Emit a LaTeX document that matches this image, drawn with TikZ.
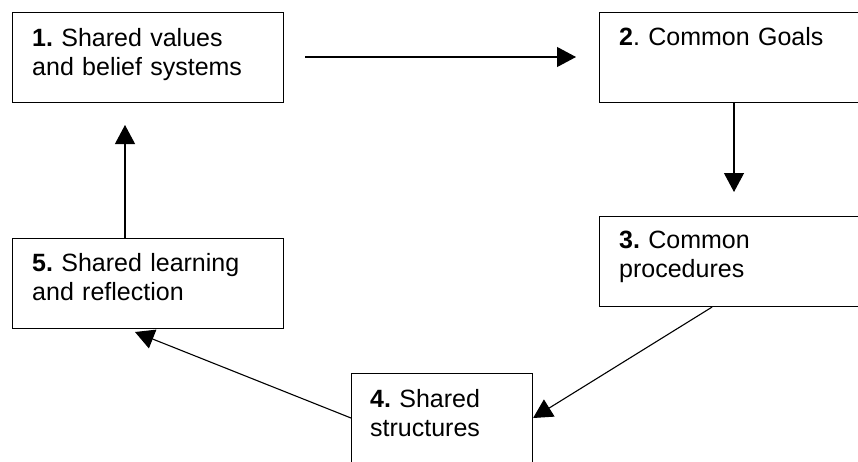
\documentclass[tikz,border=0pt]{standalone}
\usepackage{fontspec}
\setmainfont{Liberation Sans}
\usetikzlibrary{arrows.meta}
\frenchspacing
\begin{document}
\begin{tikzpicture}[x=1pt,y=-1pt,
  box/.style={draw=black, line width=1.1pt, rectangle, anchor=north west, inner sep=0pt},
  txt/.style={anchor=base west, inner sep=0pt, align=left, text width=240pt, font=\fontsize{25}{29}\selectfont\frenchspacing},
  arr/.style={draw=black, line width=1.1pt, -{Triangle[length=19pt,width=20pt]}}]
\clip (0,0) rectangle (858,461);
\fill[white] (0,0) rectangle (858,461);
% boxes
\node[box, minimum width=271pt, minimum height=90pt] (b1) at (12,12) {};
\node[box, minimum width=300pt, minimum height=90pt] (b2) at (599,12) {};
\node[box, minimum width=300pt, minimum height=90pt] (b3) at (599,216) {};
\node[box, minimum width=181pt, minimum height=120pt] (b4) at (351,373) {};
\node[box, minimum width=271pt, minimum height=90pt] (b5) at (12,238) {};
% texts
\node[txt] (t1) at (32,46) {\textbf{1.} Shared values\\and belief systems};
\node[txt] (t2) at (619,45) {\textbf{2}. Common Goals};
\node[txt] (t3) at (619,248) {\textbf{3.} Common\\procedures};
\node[txt] (t4) at (370,407) {\textbf{4.} Shared\\structures};
\node[txt] (t5) at (32,271) {\textbf{5.} Shared learning\\and reflection};
% connector ends
\coordinate (a1s) at (305,57);
\coordinate (a1e) at (576,57);
\coordinate (a2e) at (734,192);
\coordinate (a4e) at (135,332);
\coordinate (a5e) at (125,125);
% connectors
\draw[arr] (a1s) -- (a1e);
\draw[arr] ([xshift=135pt]b2.south west) -- (a2e);
\draw[arr] ([xshift=113pt]b3.south west) -- ([yshift=-45pt]b4.north east);
\draw[arr] ([yshift=-45pt]b4.north west) -- (a4e);
\draw[arr] ([xshift=113pt]b5.north west) -- (a5e);
\end{tikzpicture}
\end{document}
